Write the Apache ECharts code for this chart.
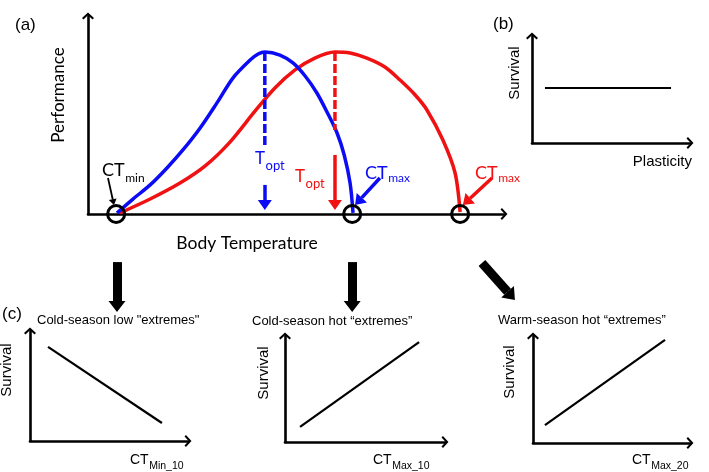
<!DOCTYPE html>
<html><head><meta charset="utf-8">
<script src="https://cdn.jsdelivr.net/npm/echarts@6/dist/echarts.min.js"></script>
<style>html,body{margin:0;padding:0;background:#fff}#c{width:709px;height:472px}</style>
</head><body><div id="c"></div>
<script>
// ---------- DATA (abstract units, 0..100) ----------
// Panel (a): thermal performance curves
const blueX = [6.9,10.7,14.8,18.8,22.6,26.7,30.7,34.5,38.6,40.5,42.1,45.7,48.8,51.7,54.5,56.9,59.3,61.0,62.4,63.1];
const blueY = [0.5,7.4,14.4,22.8,31.7,42.6,55.0,67.3,76.2,79.2,80.2,78.7,74.8,68.3,59.9,50.5,40.1,29.2,15.3,0.5];
const redX  = [7.6,14.8,21.9,27.9,33.8,39.8,44.5,49.3,54.0,58.8,62.4,66.4,70.7,74.3,77.9,80.7,84.5,87.4,88.6];
const redY  = [0.5,7.4,15.3,23.8,35.6,51.0,62.4,71.3,77.2,80.2,79.7,77.2,72.8,66.3,58.9,51.5,36.6,20.3,1.0];
const peakPerf = 80.2;
const blueTopt = 42.1, redTopt = 58.8;
const blueDashEnd = 34.2, redDashEnd = 41.6;
const ctCircles = [6.7, 62.9, 88.6];          // CTmin, CTmax(blue), CTmax(red)
// annotation arrows [x0,y0,x1,y1]
const blueArrows = [[blueTopt,14.4,blueTopt,6.9],[69.5,17.8,65.2,8.1]];
const redArrows  = [[redTopt,29.2,redTopt,6.9],[96.2,17.8,91.0,7.8]];
const blackArrows = [[4.76,17.8,5.88,7.3]];
const bigArrows = [[6.9,-23.8,6.9,-43.1],[62.9,-23.8,62.9,-43.1],[93.8,-24.3,99.9,-38.5]];
// Panel (b): survival vs plasticity
const plastX = [8.2, 88.0], plastY = [51.4, 51.4];
// Panel (c)
const minX = [11.4, 83.5],   minY = [85.5, 16.4];
const max10X = [9.4, 83.8],  max10Y = [14.2, 94.3];
const max20X = [7.6, 84.1],  max20Y = [16.8, 96.3];
// text
const panelTitles = ['Cold-season low "extremes"', 'Cold-season hot \u201Cextremes\u201D', 'Warm-season hot \u201Cextremes\u201D'];

// ---------- STYLE ----------
const BLUE = '#0b0bf5', RED = '#f01212';
const ARIAL = '"Liberation Sans", Arial, sans-serif';
const CAL = 'Lato, "Open Sans", sans-serif';
const chevron = 'path://M50,0 L100,46 L88,58 L50,23 L12,58 L0,46 Z';
// arrow head: tip 'len' beyond the end point, base at the end point, square bbox
function head(w, len) {
  const S = 2 * len, c = len;
  return 'path://M' + c + ',0 L' + (c + w / 2) + ',' + len + ' L' + (c - w / 2) + ',' + len + ' Z' +
    ' M' + (c - 0.5) + ',' + len + ' L' + (c + 0.5) + ',' + len + ' L' + (c + 0.5) + ',' + (len + 2) + ' L' + (c - 0.5) + ',' + (len + 2) + ' Z' +
    ' M0,' + S + ' L0,' + S + ' M' + S + ',' + S + ' L' + S + ',' + S;
}

const zip = (a, b) => a.map((v, i) => [v, b[i]]);
const seg = arr => arr.map(a => ({coords: [[a[0], a[1]], [a[2], a[3]]]}));

const grids = [
  {left: 88,  top: 16,  width: 416, height: 198, xmax: 416/4.2, ymax: 198/2.02},
  {left: 532, top: 36,  width: 158, height: 107, xmax: 100, ymax: 100},
  {left: 30,  top: 331, width: 158, height: 110, xmax: 100, ymax: 100},
  {left: 285, top: 336, width: 160, height: 106, xmax: 100, ymax: 100},
  {left: 533, top: 336, width: 157, height: 107, xmax: 100, ymax: 100}
];
function axis(i, max) {
  return {type: 'value', gridIndex: i, min: 0, max: max,
    axisLine: {show: true, onZero: false, symbol: ['none', chevron], symbolSize: [12, 8],
      lineStyle: {color: '#000', width: 2.6}},
    axisTick: {show: false}, axisLabel: {show: false}, splitLine: {show: false}};
}

// text helpers
const mctx = document.createElement('canvas').getContext('2d');
function tw(t, size, fam) { mctx.font = size + 'px ' + fam; return mctx.measureText(t).width; }
function txt(x, y, t, size, fam, color, align, rot) {
  const e = {type: 'text', x: x, y: y, z: 100, silent: true,
    style: {text: t, fill: color || '#000', font: size + 'px ' + fam, align: align || 'left', verticalAlign: 'middle'}};
  if (rot) e.rotation = rot;
  return e;
}
function subTxt(x, yMain, ySub, main, sub, s1, s2, fam, color) {
  const w = tw(main, s1, fam);
  return [txt(x, yMain, main, s1, fam, color), txt(x + w + 0.5, ySub, sub, s2, fam, color)];
}

const graphics = [].concat(
  [txt(15, 25, '(a)', 17, ARIAL),
   txt(59, 95, 'Performance', 17, CAL, '#000', 'center', Math.PI/2),
   txt(247, 243, 'Body Temperature', 17.5, CAL, '#000', 'center'),
   txt(493, 24, '(b)', 17, ARIAL),
   txt(515, 73, 'Survival', 15, ARIAL, '#000', 'center', Math.PI/2),
   txt(692, 162, 'Plasticity', 15, ARIAL, '#000', 'right'),
   txt(2, 314, '(c)', 17, ARIAL),
   txt(37, 320, panelTitles[0], 13, ARIAL),
   txt(252, 321, panelTitles[1], 13, ARIAL),
   txt(498, 320, panelTitles[2], 13, ARIAL),
   txt(7, 370, 'Survival', 15, ARIAL, '#000', 'center', Math.PI/2),
   txt(264, 373, 'Survival', 15, ARIAL, '#000', 'center', Math.PI/2),
   txt(510, 372, 'Survival', 15, ARIAL, '#000', 'center', Math.PI/2)],
  subTxt(102, 170, 178, 'CT', 'min', 18, 12, CAL, '#000'),
  subTxt(255, 159, 166, 'T', 'opt', 17, 13, CAL, BLUE),
  subTxt(295, 176.5, 184, 'T', 'opt', 17, 13, CAL, RED),
  subTxt(365, 173.5, 178, 'CT', 'max', 18, 12, CAL, BLUE),
  subTxt(475, 173.5, 178, 'CT', 'max', 18, 12, CAL, RED),
  subTxt(130, 460, 466, 'CT', 'Min_10', 14, 10.5, ARIAL, '#000'),
  subTxt(373, 460, 466, 'CT', 'Max_10', 14, 10.5, ARIAL, '#000'),
  subTxt(632, 460, 466, 'CT', 'Max_20', 14, 10.5, ARIAL, '#000')
);

function simpleLine(i, xs, ys) {
  return {type: 'line', xAxisIndex: i, yAxisIndex: i, data: zip(xs, ys), showSymbol: false, silent: true,
    lineStyle: {color: '#000', width: 2.2}};
}
function arrowSeries(data, color, width, w, len) {
  return {type: 'lines', coordinateSystem: 'cartesian2d', xAxisIndex: 0, yAxisIndex: 0, clip: false, silent: true,
    symbol: ['none', head(w, len)], symbolSize: 2 * len,
    lineStyle: {color: color, width: width, opacity: 1, curveness: 0, cap: 'butt'},
    itemStyle: {color: color}, data: seg(data), z: 4};
}

const option = {
  animation: false,
  backgroundColor: '#fff',
  grid: grids.map(g => ({left: g.left, top: g.top, width: g.width, height: g.height, containLabel: false, outerBoundsMode: 'none'})),
  xAxis: grids.map((g, i) => axis(i, g.xmax)),
  yAxis: grids.map((g, i) => axis(i, g.ymax)),
  graphic: graphics,
  series: [
    {type: 'line', xAxisIndex: 0, yAxisIndex: 0, data: zip(redX, redY), smooth: 0.3, showSymbol: false, silent: true, clip: false,
      lineStyle: {color: RED, width: 3.5}, z: 3},
    {type: 'line', xAxisIndex: 0, yAxisIndex: 0, data: zip(blueX, blueY), smooth: 0.3, showSymbol: false, silent: true, clip: false,
      lineStyle: {color: BLUE, width: 3.5}, z: 3},
    {type: 'line', xAxisIndex: 0, yAxisIndex: 0, data: [[blueTopt, peakPerf], [blueTopt, blueDashEnd]], showSymbol: false, silent: true,
      lineStyle: {color: BLUE, width: 3.5, type: [9, 3]}, z: 3},
    {type: 'line', xAxisIndex: 0, yAxisIndex: 0, data: [[redTopt, peakPerf], [redTopt, redDashEnd]], showSymbol: false, silent: true,
      lineStyle: {color: RED, width: 3.5, type: [9, 3]}, z: 3},
    arrowSeries(blueArrows, BLUE, 3.5, 14, 10),
    arrowSeries(redArrows, RED, 3.5, 14, 10),
    arrowSeries(blackArrows, '#000', 1.8, 8, 6),
    arrowSeries(bigArrows, '#000', 9, 17, 11),
    {type: 'scatter', xAxisIndex: 0, yAxisIndex: 0, data: ctCircles.map(x => [x, 0]), symbol: 'circle', symbolSize: 17,
      clip: false, silent: true, z: 6,
      itemStyle: {color: 'rgba(255,255,255,0)', borderColor: '#000', borderWidth: 3, opacity: 1}},
    simpleLine(1, plastX, plastY),
    simpleLine(2, minX, minY),
    simpleLine(3, max10X, max10Y),
    simpleLine(4, max20X, max20Y)
  ]
};
echarts.init(document.getElementById('c'), null, {renderer: 'canvas'}).setOption(option);
</script></body></html>
